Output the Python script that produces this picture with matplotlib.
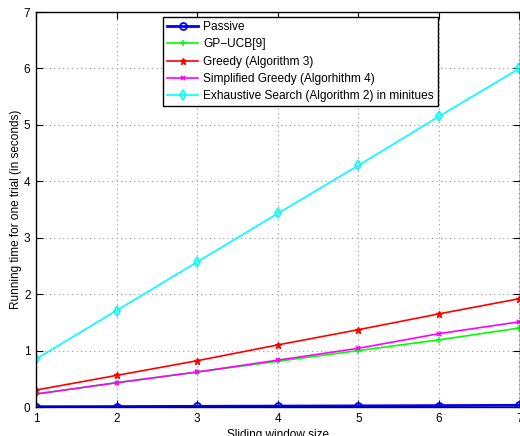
import numpy as np
import matplotlib.pyplot as plt

plt.rcParams['font.family'] = ['Liberation Sans', 'DejaVu Sans']

# running time per trial vs sliding window size
window = [1, 2, 3, 4, 5, 6, 7]
passive = [0.005, 0.008, 0.012, 0.016, 0.020, 0.025, 0.030]
gp_ucb = [0.23, 0.43, 0.62, 0.81, 1.00, 1.19, 1.40]
greedy = [0.30, 0.56, 0.82, 1.10, 1.37, 1.65, 1.92]
simp_greedy = [0.23, 0.43, 0.62, 0.83, 1.04, 1.30, 1.51]
exhaustive = [0.85, 1.71, 2.57, 3.43, 4.28, 5.15, 6.00]

labels = ['Passive', 'GP\u2212UCB[9]', 'Greedy (Algorithm 3)',
          'Simplified Greedy (Algorhithm 4)',
          'Exhaustive Search (Algorithm 2) in minitues']

fig = plt.figure(figsize=(5.2, 4.36), dpi=100)
ax = fig.add_axes([36/520, 29/436, 483.5/520, 395/436])

ax.plot(window, passive, '-o', color='blue', lw=2, ms=5, mfc='none', mew=1.3, label=labels[0])
ax.plot(window, gp_ucb, '-+', color='#00ff00', lw=1.2, ms=5, mew=1.1, label=labels[1])
ax.plot(window, greedy, '-*', color='red', lw=1.2, ms=4.5, label=labels[2])
ax.plot(window, simp_greedy, '-x', color='magenta', lw=1.2, ms=3.5, mew=1.2, label=labels[3])
ax.plot(window, exhaustive, '-d', color='cyan', lw=1.2, ms=5, mfc='none', mew=1.2, label=labels[4])

ax.set_xlim(1, 7)
ax.set_ylim(0, 7)
ax.set_xticks(window)
ax.set_yticks(range(0, 8))
ax.grid(True, linestyle=(0, (1, 3)), color='#999999', lw=0.8)
ax.tick_params(direction='in', top=True, right=True, length=5, labelsize=8.5, pad=4)
for s in ax.spines.values():
    s.set_linewidth(1.0)

ax.set_xlabel('Sliding window size', fontsize=8.5, labelpad=3)
ax.set_ylabel('Running time for one trial (in seconds)', fontsize=8.5, labelpad=1)

leg = ax.legend(loc='upper left', bbox_to_anchor=(127/483.5, 1 - 5/395), borderaxespad=0,
                fontsize=8.6, handlelength=2.6, handletextpad=0.4, labelspacing=0.44,
                borderpad=0.35, fancybox=False, framealpha=1)
leg.get_frame().set_edgecolor('black')
leg.get_frame().set_linewidth(1.0)

fig.savefig('out.png', dpi=100)
